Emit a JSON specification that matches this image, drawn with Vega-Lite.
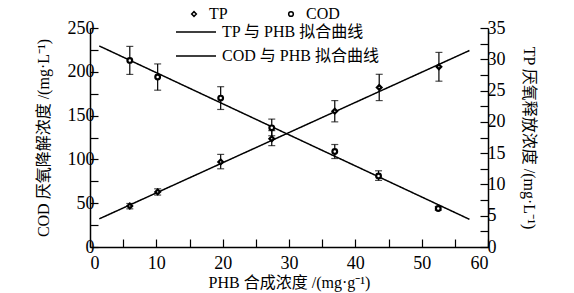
{
  "$schema": "https://vega.github.io/schema/vega-lite/v6.json",
  "width": 398,
  "height": 219,
  "autosize": {"type": "none"},
  "padding": {"left": 90, "top": 28, "right": 86, "bottom": 46},
  "background": "white",
  "config": {
    "view": {"stroke": null},
    "font": "'Liberation Serif', 'Noto Sans CJK SC'",
    "axis": {
      "grid": false,
      "domainColor": "#000",
      "domainWidth": 1.5,
      "tickColor": "#000",
      "tickWidth": 1.2,
      "tickSize": -8,
      "labelColor": "#000",
      "labelFont": "Liberation Serif",
      "labelFontSize": 18,
      "titleColor": "#000",
      "titleFont": "'Liberation Serif', 'Noto Sans CJK SC'",
      "titleFontSize": 16,
      "titleFontWeight": "normal"
    },
    "legend": {
      "labelFont": "'Liberation Serif', 'Noto Sans CJK SC'",
      "labelFontSize": 16,
      "labelColor": "#000",
      "orient": "none"
    }
  },
  "datasets": {
    "cod": [
      {"phb": 6.0, "value": 213, "lo": 197, "hi": 229, "series": "COD"},
      {"phb": 10.2, "value": 194, "lo": 179, "hi": 209, "series": "COD"},
      {"phb": 19.7, "value": 170, "lo": 157, "hi": 183, "series": "COD"},
      {"phb": 27.4, "value": 136, "lo": 127, "hi": 146, "series": "COD"},
      {"phb": 36.9, "value": 109, "lo": 101, "hi": 117, "series": "COD"},
      {"phb": 43.5, "value": 81, "lo": 76, "hi": 87, "series": "COD"},
      {"phb": 52.5, "value": 44, "lo": 42, "hi": 46, "series": "COD"}
    ],
    "tp": [
      {"phb": 6.0, "value": 6.55, "lo": 6.1, "hi": 6.95, "series": "TP"},
      {"phb": 10.2, "value": 8.8, "lo": 8.3, "hi": 9.3, "series": "TP"},
      {"phb": 19.7, "value": 13.6, "lo": 12.5, "hi": 14.8, "series": "TP"},
      {"phb": 27.4, "value": 17.3, "lo": 16.2, "hi": 18.6, "series": "TP"},
      {"phb": 36.9, "value": 21.7, "lo": 20.0, "hi": 23.4, "series": "TP"},
      {"phb": 43.6, "value": 25.5, "lo": 23.4, "hi": 27.6, "series": "TP"},
      {"phb": 52.6, "value": 28.8, "lo": 26.5, "hi": 31.1, "series": "TP"}
    ],
    "codfit": [
      {"phb": 1.4, "value": 229.5, "fit": "COD 与 PHB 拟合曲线"},
      {"phb": 57.2, "value": 31.6, "fit": "COD 与 PHB 拟合曲线"}
    ],
    "tpfit": [
      {"phb": 1.4, "value": 4.5, "fit": "TP 与 PHB 拟合曲线"},
      {"phb": 57.2, "value": 31.4, "fit": "TP 与 PHB 拟合曲线"}
    ]
  },
  "encoding": {
    "x": {
      "field": "phb",
      "type": "quantitative",
      "scale": {"domain": [0, 60], "nice": false, "zero": false},
      "axis": {
        "title": "PHB 合成浓度 /(mg·g⁻¹)",
        "values": [0, 5, 10, 15, 20, 25, 30, 35, 40, 45, 50, 55, 60],
        "labelExpr": "datum.value % 10 === 0 ? datum.label : ''",
        "titlePadding": 2,
        "labelPadding": 15
      }
    }
  },
  "layer": [
    {
      "layer": [
        {
          "data": {"name": "cod"},
          "mark": {"type": "errorbar", "ticks": {"size": 7, "thickness": 1.2, "color": "#000"}, "rule": {"strokeWidth": 1.2, "color": "#000"}, "color": "#000"},
          "encoding": {
            "y": {"field": "lo", "type": "quantitative", "scale": {"domain": [0, 250], "nice": false},
              "axis": {"orient": "left", "title": "COD 厌氧降解浓度 /(mg·L⁻¹)", "values": [0,25,50,75,100,125,150,175,200,225,250], "labelExpr": "datum.value % 50 === 0 ? datum.label : ''", "labelPadding": 4, "titlePadding": 16}},
            "y2": {"field": "hi"}
          }
        },
        {
          "data": {"name": "codfit"},
          "mark": {"type": "line", "color": "#000", "strokeWidth": 1.5},
          "encoding": {
            "y": {"field": "value", "type": "quantitative", "scale": {"domain": [0, 250], "nice": false},
              "axis": {"orient": "left", "title": "COD 厌氧降解浓度 /(mg·L⁻¹)", "values": [0,25,50,75,100,125,150,175,200,225,250], "labelExpr": "datum.value % 50 === 0 ? datum.label : ''", "labelPadding": 4, "titlePadding": 16}},
            "strokeDash": {
              "field": "fit", "type": "nominal",
              "scale": {"domain": ["TP 与 PHB 拟合曲线", "COD 与 PHB 拟合曲线"], "range": [[1, 0], [1, 0]]},
              "legend": {"title": null, "legendX": 98, "legendY": -4, "symbolType": "M-4,0H4", "symbolSize": 100, "symbolStrokeWidth": 1.5, "symbolStrokeColor": "#000", "rowPadding": 8, "labelOffset": 18,
                "encode": {"symbols": {"update": {"stroke": {"value": "#000"}, "fill": {"value": "transparent"}, "strokeWidth": {"value": 1.5}}}}}
            }
          }
        },
        {
          "data": {"name": "cod"},
          "mark": {"type": "point", "filled": true, "color": "white", "stroke": "#000", "strokeWidth": 2.2, "size": 22, "opacity": 1},
          "encoding": {
            "y": {"field": "value", "type": "quantitative", "scale": {"domain": [0, 250], "nice": false},
              "axis": {"orient": "left", "title": "COD 厌氧降解浓度 /(mg·L⁻¹)", "values": [0,25,50,75,100,125,150,175,200,225,250], "labelExpr": "datum.value % 50 === 0 ? datum.label : ''", "labelPadding": 4, "titlePadding": 16}},
            "shape": {
              "field": "series", "type": "nominal",
              "scale": {"domain": ["TP", "COD"], "range": ["diamond", "circle"]},
              "legend": {"title": null, "columns": 2, "columnPadding": 55, "legendX": 96, "legendY": -22, "symbolSize": 22, "labelOffset": 7,
                "encode": {"symbols": {"update": {"stroke": {"value": "#000"}, "fill": {"value": "white"}, "strokeWidth": {"value": 2.2}, "opacity": {"value": 1}}}}}
            }
          }
        }
      ]
    },
    {
      "layer": [
        {
          "data": {"name": "tp"},
          "mark": {"type": "errorbar", "ticks": {"size": 7, "thickness": 1.2, "color": "#000"}, "rule": {"strokeWidth": 1.2, "color": "#000"}, "color": "#000"},
          "encoding": {
            "y": {"field": "lo", "type": "quantitative", "scale": {"domain": [0, 35], "nice": false},
              "axis": {"orient": "right", "title": "TP 厌氧释放浓度 /(mg·L⁻¹)", "values": [0,2.5,5,7.5,10,12.5,15,17.5,20,22.5,25,27.5,30,32.5,35], "labelExpr": "datum.value % 5 === 0 ? datum.label : ''", "labelPadding": 7, "titlePadding": 15}},
            "y2": {"field": "hi"}
          }
        },
        {
          "data": {"name": "tpfit"},
          "mark": {"type": "line", "color": "#000", "strokeWidth": 1.5},
          "encoding": {
            "y": {"field": "value", "type": "quantitative", "scale": {"domain": [0, 35], "nice": false},
              "axis": {"orient": "right", "title": "TP 厌氧释放浓度 /(mg·L⁻¹)", "values": [0,2.5,5,7.5,10,12.5,15,17.5,20,22.5,25,27.5,30,32.5,35], "labelExpr": "datum.value % 5 === 0 ? datum.label : ''", "labelPadding": 7, "titlePadding": 15}},
            "strokeDash": {
              "field": "fit", "type": "nominal",
              "scale": {"domain": ["TP 与 PHB 拟合曲线", "COD 与 PHB 拟合曲线"], "range": [[1, 0], [1, 0]]}
            }
          }
        },
        {
          "data": {"name": "tp"},
          "mark": {"type": "point", "filled": true, "color": "white", "stroke": "#000", "strokeWidth": 2.2, "size": 22, "opacity": 1},
          "encoding": {
            "y": {"field": "value", "type": "quantitative", "scale": {"domain": [0, 35], "nice": false},
              "axis": {"orient": "right", "title": "TP 厌氧释放浓度 /(mg·L⁻¹)", "values": [0,2.5,5,7.5,10,12.5,15,17.5,20,22.5,25,27.5,30,32.5,35], "labelExpr": "datum.value % 5 === 0 ? datum.label : ''", "labelPadding": 7, "titlePadding": 15}},
            "shape": {
              "field": "series", "type": "nominal",
              "scale": {"domain": ["TP", "COD"], "range": ["diamond", "circle"]}
            }
          }
        }
      ]
    }
  ],
  "resolve": {"scale": {"y": "independent"}}
}
